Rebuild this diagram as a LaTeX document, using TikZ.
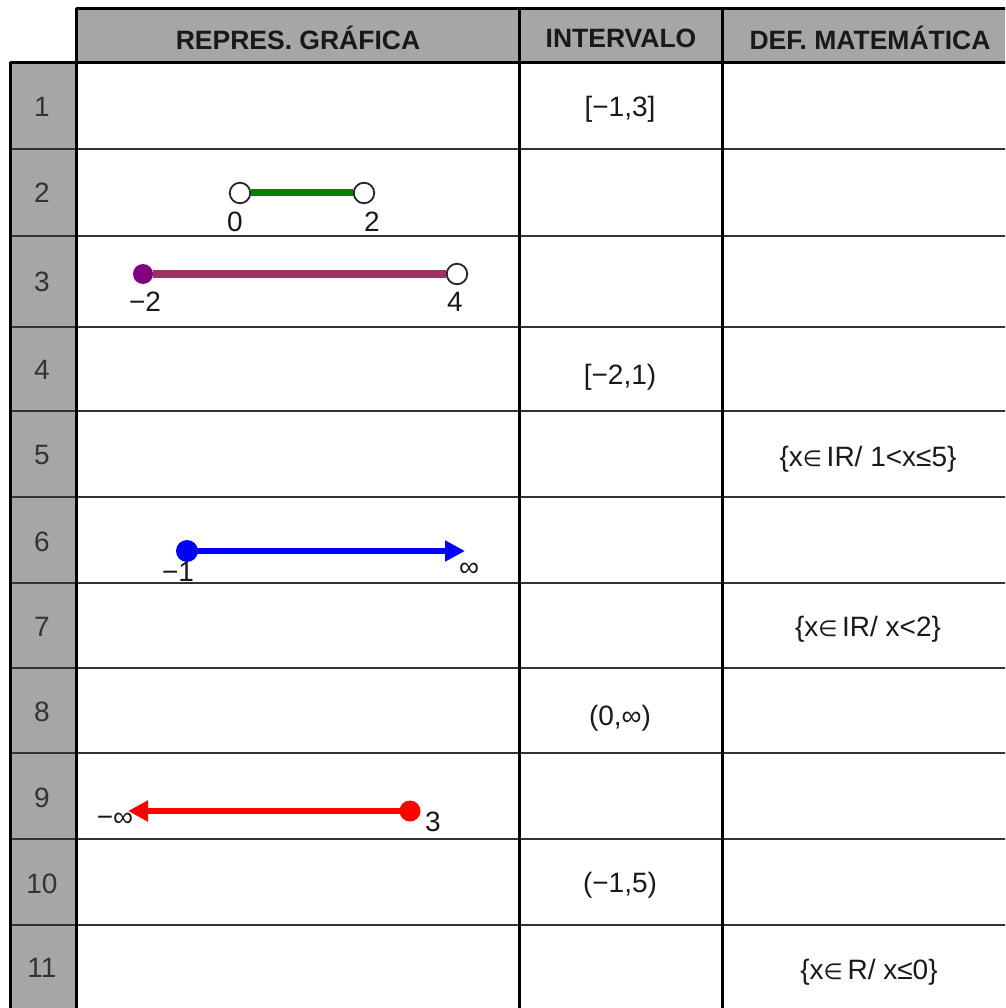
\documentclass[tikz,border=0pt]{standalone}
\usepackage{fontspec}
\setmainfont{Liberation Sans}
\newfontfamily\symfnt{DejaVu Sans}
\usetikzlibrary{arrows.meta}
\definecolor{hdrgray}{RGB}{166,166,166}
\definecolor{txtcol}{RGB}{25,25,25}
\definecolor{seggreen}{RGB}{0,128,0}
\definecolor{segpurple}{RGB}{153,51,102}
\definecolor{dotpurple}{RGB}{128,0,128}
\newcommand{\elem}{{\symfnt\fontsize{22}{26}\selectfont ∈}}
\tikzset{
  hdr/.style={font=\fontsize{26.5}{30}\selectfont\bfseries, text=txtcol, inner sep=0pt},
  numtxt/.style={font=\fontsize{28}{32}\selectfont, text=black!80, inner sep=0pt},
  celltxt/.style={font=\fontsize{28}{32}\selectfont, text=txtcol, inner sep=0pt},
  lbl/.style={font=\fontsize{28}{32}\selectfont, text=txtcol, inner sep=0pt},
  thickline/.style={line width=3pt, black},
  rowline/.style={line width=2pt, black!80},
  opendot/.style={circle, draw=black!85, line width=1.8pt, fill=white, minimum size=20.5pt, inner sep=0pt},
  fulldot/.style={circle, minimum size=#1, inner sep=0pt},
}
\begin{document}
\begin{tikzpicture}[x=1pt,y=-1pt]
\clip (0,0) rectangle (1005,1008);
\fill[white] (0,0) rectangle (1005,1008);
% gray fills
\fill[hdrgray] (76,9) rectangle (1012,63);
\fill[hdrgray] (10,63) rectangle (76,1012);
% row lines
\foreach \yy in {149,236,327,411,497,583,668,753,839,925}
  \draw[rowline] (10,\yy) -- (1012,\yy);
% header / vertical lines
\draw[thickline] (76,9) -- (1012,9);
\draw[thickline] (10,63) -- (1012,63);
\draw[thickline] (10,62) -- (10,1012);
\draw[thickline] (76,8) -- (76,1012);
\draw[thickline] (519,8) -- (519,1012);
\draw[thickline] (722,8) -- (722,1012);
% header texts
\node[hdr] (h1) at (298,38) {REPRES. GRÁFICA};
\node[hdr] (h2) at (621,38) {INTERVALO};
\node[hdr] (h3) at (870,38) {DEF. MATEMÁTICA};
% row numbers
\node[numtxt] (n1) at (42,107) {1};
\node[numtxt] (n2) at (42,193) {2};
\node[numtxt] (n3) at (42,282) {3};
\node[numtxt] (n4) at (42,370) {4};
\node[numtxt] (n5) at (42,455) {5};
\node[numtxt] (n6) at (42,542) {6};
\node[numtxt] (n7) at (42,627) {7};
\node[numtxt] (n8) at (42,712) {8};
\node[numtxt] (n9) at (42,798) {9};
\node[numtxt] (n10) at (42,884) {10};
\node[numtxt] (n11) at (42,968) {11};
% intervals
\node[celltxt] (i1) at (620,109) {[−1,3]};
\node[celltxt] (i4) at (620,377) {[−2,1)};
\node[celltxt] (i8) at (620,718) {(0,∞)};
\node[celltxt] (i10) at (620,885) {(−1,5)};
% definitions
\node[celltxt] (d5) at (868,459) {\{x\elem\,IR/ 1<x≤5\}};
\node[celltxt] (d7) at (868,629) {\{x\elem\,IR/ x<2\}};
\node[celltxt] (d11) at (869,972) {\{x\elem\,R/ x≤0\}};
% row 2
\node[opendot] (c2a) at (240,193) {};
\node[opendot] (c2b) at (364,193) {};
\draw[seggreen, line width=7pt] (c2a) -- (c2b);
\node[lbl] (l2a) at (235,222) {0};
\node[lbl] (l2b) at (372,222) {2};
% row 3
\node[fulldot=20pt, fill=dotpurple] (c3a) at (143,274) {};
\node[opendot] (c3b) at (457,274) {};
\draw[segpurple, line width=8pt] (c3a) -- (c3b);
\node[lbl] (l3a) at (145,302) {−2};
\node[lbl] (l3b) at (455,302) {4};
% row 6
\node[fulldot=22pt, fill=blue] (c6a) at (187,551) {};
\coordinate (c6b) at (465,551);
\draw[blue, line width=6.5pt, -{Triangle[length=20pt,width=20pt]}] (c6a.center) -- (c6b);
\node[lbl] (l6a) at (178,572) {−1};
\node[lbl] (l6b) at (469,570) {∞};
% row 9
\node[fulldot=21pt, fill=red] (c9a) at (410,811) {};
\coordinate (c9b) at (128,811);
\draw[red, line width=5.5pt, -{Triangle[length=20pt,width=20pt]}] (c9a.center) -- (c9b);
\node[lbl] (l9a) at (115,820) {−∞};
\node[lbl] (l9b) at (433,822) {3};
\end{tikzpicture}
\end{document}
